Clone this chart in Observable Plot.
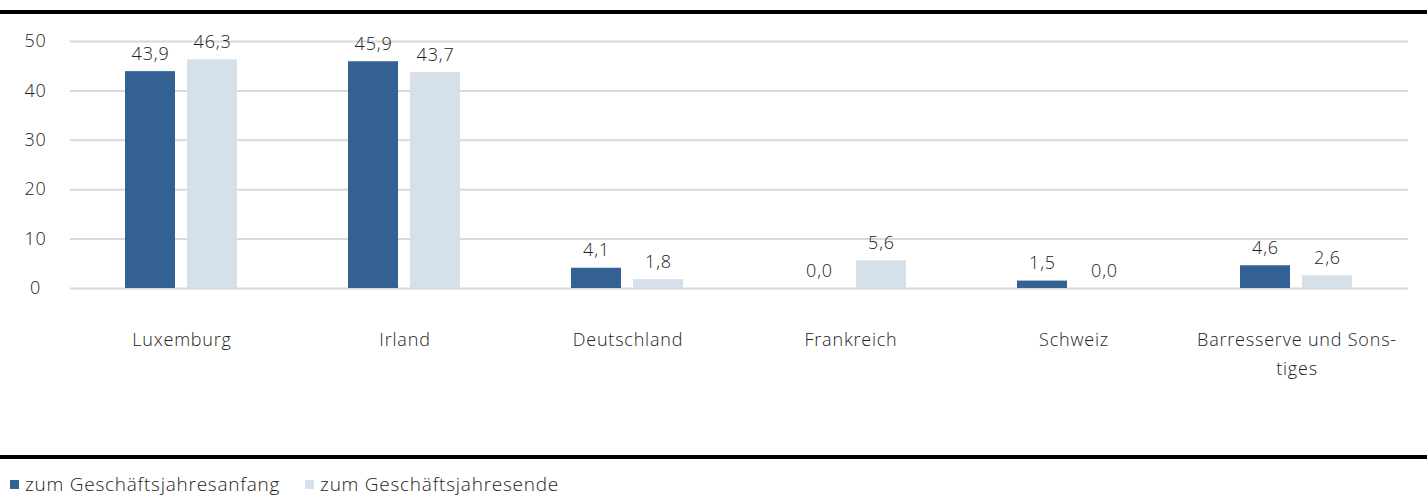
<!DOCTYPE html>
<html>
<head>
<meta charset="utf-8">
<script src="https://cdn.jsdelivr.net/npm/d3@7"></script>
<script src="https://cdn.jsdelivr.net/npm/@observablehq/plot@0.6"></script>
<style>
  html, body { margin: 0; padding: 0; background: #fff; }
  body { width: 1427px; height: 495px; overflow: hidden; font-family: "Open Sans", sans-serif; font-weight: 300; color: #222; }
  .rule { height: 4px; background: #000; }
  #top { margin-top: 10px; }
  #chart svg { display: block; }
  .legend { display: flex; align-items: center; font-size: 19px; letter-spacing: 0.75px; margin-top: 12px; padding-left: 10px; color: #222; }
  .legend .item { display: flex; align-items: center; margin-right: 25px; }
  .legend .sw { width: 9px; height: 9px; margin-right: 6px; display: inline-block; }
</style>
</head>
<body>
<div class="rule" id="top"></div>
<div id="chart"></div>
<div class="rule" id="bottom"></div>
<div class="legend" id="legend"></div>
<script>
const categories = ["Luxemburg", "Irland", "Deutschland", "Frankreich", "Schweiz", "Barresserve und Sonstiges"];
const categoryLabels = ["Luxemburg", "Irland", "Deutschland", "Frankreich", "Schweiz", "Barresserve und Sons-\ntiges"];
const seriesNames = ["zum Geschäftsjahresanfang", "zum Geschäftsjahresende"];
const seriesColors = ["#336194", "#d6e0ea"];
const startValues = [43.9, 45.9, 4.1, 0.0, 1.5, 4.6];
const endValues = [46.3, 43.7, 1.8, 5.6, 0.0, 2.6];
const yTicks = [0, 10, 20, 30, 40, 50];

const data = [];
categories.forEach((c, i) => {
  data.push({cat: c, series: seriesNames[0], value: startValues[i]});
  data.push({cat: c, series: seriesNames[1], value: endValues[i]});
});
const fmt = v => d3.format(".1f")(v).replace(".", ",");
const labelOf = c => categoryLabels[categories.indexOf(c)];

const chart = Plot.plot({
  width: 1427,
  height: 441,
  marginLeft: 70,
  marginRight: 19,
  marginTop: 27,
  marginBottom: 167,
  style: {fontFamily: "'Open Sans', sans-serif", fontWeight: 300, fontSize: "18px", letterSpacing: "0.8px", color: "#222", background: "#fff"},
  fx: {domain: categories, padding: 0, label: null},
  x: {domain: seriesNames, paddingInner: 0.19, paddingOuter: 0.865, axis: null},
  y: {domain: [0, 50], ticks: yTicks, label: null},
  color: {domain: seriesNames, range: seriesColors},
  marks: [
    Plot.gridY(yTicks, {stroke: "#d9d9d9", strokeOpacity: 1, strokeWidth: 2}),
    Plot.axisY(yTicks, {tickSize: 0, tickPadding: 35, textAnchor: "middle", label: null, fontSize: 18}),
    Plot.barY(data, {fx: "cat", x: "series", y: "value", fill: "series"}),
    Plot.text(data, {fx: "cat", x: "series", y: "value", text: d => fmt(d.value), lineAnchor: "bottom", dy: -12, fontSize: 18, fill: "#222"}),
    Plot.axisFx({anchor: "bottom", tickSize: 0, tickPadding: 37, label: null, tickFormat: labelOf, lineHeight: 1.6, fontSize: 18})
  ]
});
document.getElementById("chart").appendChild(chart);

const legend = document.getElementById("legend");
seriesNames.forEach((s, i) => {
  const item = document.createElement("span");
  item.className = "item";
  const sw = document.createElement("span");
  sw.className = "sw";
  sw.style.background = seriesColors[i];
  item.appendChild(sw);
  item.appendChild(document.createTextNode(s));
  legend.appendChild(item);
});
</script>
</body>
</html>
